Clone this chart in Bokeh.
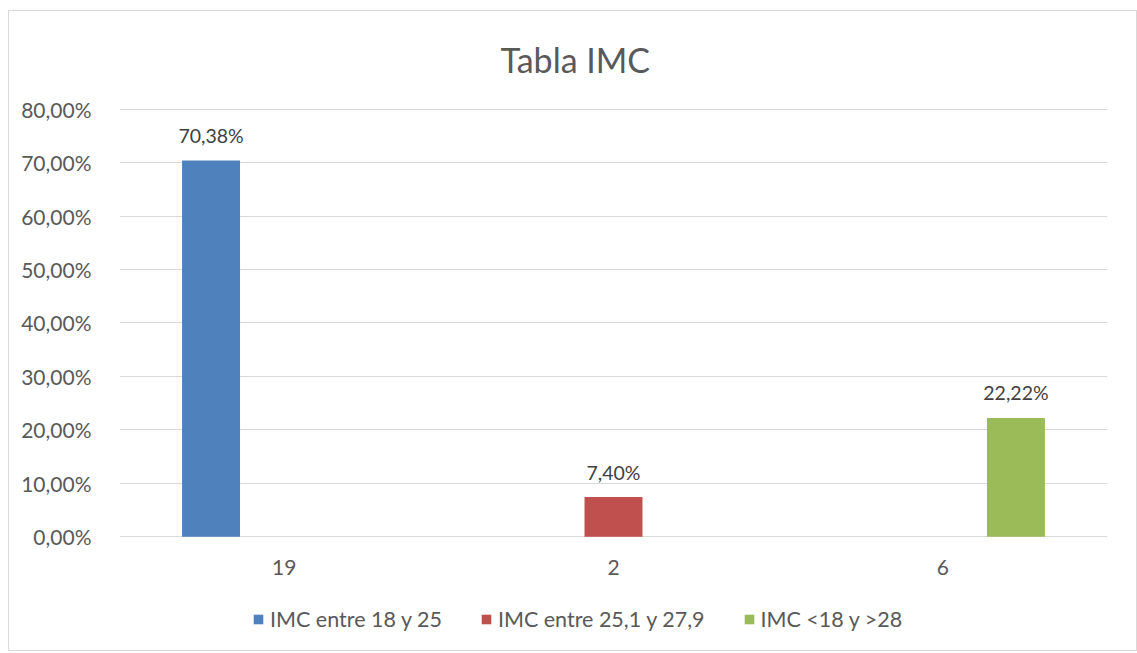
from bokeh.plotting import figure
from bokeh.models import ColumnDataSource, FixedTicker, Legend, LegendItem, Range1d
from bokeh.transform import dodge
from bokeh.core.properties import value
from bokeh.embed import file_html
from bokeh.resources import INLINE

# ---- data ----
chart_title = "Tabla IMC"
categories = ["19", "2", "6"]
series_names = ["IMC entre 18 y 25", "IMC entre 25,1 y 27,9", "IMC <18 y >28"]
series_a = [0.7038, 0.0, 0.0]
series_b = [0.0, 0.0740, 0.0]
series_c = [0.0, 0.0, 0.2222]
labels_a = ["70,38%", "", ""]
labels_b = ["", "7,40%", ""]
labels_c = ["", "", "22,22%"]
y_ticks = [0.0, 0.1, 0.2, 0.3, 0.4, 0.5, 0.6, 0.7, 0.8]
y_tick_labels = ["0,00%", "10,00%", "20,00%", "30,00%", "40,00%",
                 "50,00%", "60,00%", "70,00%", "80,00%"]

# ---- style ----
colors = ["#4F81BD", "#C0504D", "#9BBB59"]
FONT = "Lato"
TXT = "#595959"
GRID = "#D9D9D9"
BAR_W = 0.176
OFFS = [-0.222, 0.0, 0.222]
Y_BOTTOM = -0.2131   # frame extends below 0 to hold category labels and legend

xs = list(range(len(categories)))

p = figure(frame_width=988, frame_height=542, output_backend="svg", toolbar_location=None,
           x_range=Range1d(-0.5, len(categories) - 0.5),
           y_range=Range1d(Y_BOTTOM, 0.8012), x_axis_location=None,
           min_border_left=110, min_border_right=29, min_border_top=97,
           min_border_bottom=0)
p.styles = {"border": "1px solid #D9D9D9", "margin-left": "8px", "margin-top": "10px"}

p.title.text = chart_title
p.title.align = "left"
p.title.offset = 381
p.title.vertical_align = "top"
p.title.standoff = 54
p.title.text_font = FONT
p.title.text_font_size = "34px"
p.title.text_font_style = "normal"
p.title.text_color = TXT

items = []
for name, vals, labs, col, off in zip(series_names, [series_a, series_b, series_c],
                                      [labels_a, labels_b, labels_c], colors, OFFS):
    src = ColumnDataSource(dict(x=xs, top=vals, lab=labs))
    r = p.vbar(x=dodge("x", off, range=p.x_range), top="top", bottom=0, width=BAR_W,
               source=src, fill_color=col, line_color=None)
    p.text(x=dodge("x", off, range=p.x_range), y="top", text="lab", source=src,
           text_align="center", text_baseline="alphabetic", y_offset=-25,
           text_font=value(FONT), text_font_size="19.5px", text_color="#404040")
    items.append(LegendItem(label=name, renderers=[r]))

# category labels (x axis)
cat_src = ColumnDataSource(dict(x=xs, y=[0] * len(xs), t=categories))
p.text(x="x", y="y", text="t", source=cat_src, text_align="center",
       text_baseline="middle", y_offset=31, text_font=value(FONT),
       text_font_size="21px", text_color=TXT)

p.yaxis.ticker = FixedTicker(ticks=y_ticks)
p.yaxis.major_label_overrides = {t: l for t, l in zip(y_ticks, y_tick_labels)}
p.yaxis.axis_line_color = None
p.yaxis.major_tick_line_color = None
p.yaxis.minor_tick_line_color = None
p.yaxis.major_label_text_font = FONT
p.yaxis.major_label_text_font_size = "21px"
p.yaxis.major_label_text_color = TXT
p.yaxis.major_label_standoff = 22

p.xgrid.grid_line_color = None
p.ygrid.grid_line_color = GRID
p.ygrid.ticker = FixedTicker(ticks=y_ticks)
p.outline_line_color = None

legend = Legend(items=items, orientation="horizontal", location=(133, 18),
                glyph_width=12, glyph_height=12, label_standoff=6, spacing=38,
                label_text_font=FONT, label_text_font_size="21.5px",
                label_text_color=TXT, border_line_color=None,
                background_fill_alpha=0, padding=0, margin=0)
p.add_layout(legend, "center")

open("out.html", "w").write(file_html(p, INLINE))
